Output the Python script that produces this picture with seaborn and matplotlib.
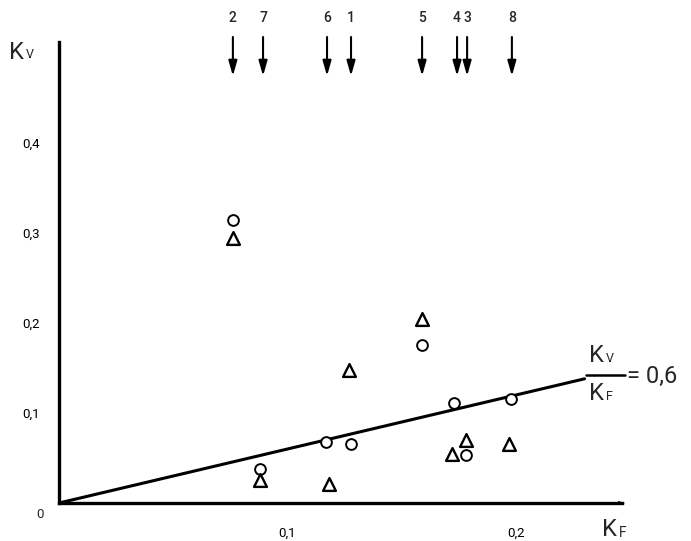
import matplotlib
matplotlib.use("Agg")
import matplotlib.pyplot as plt
import seaborn as sns
import numpy as np
import pandas as pd

# ---- data ----
sample_ids = ["2", "7", "6", "1", "5", "4", "3", "8"]
sample_kf = [0.0761, 0.0893, 0.1173, 0.1278, 0.1589, 0.1742, 0.1786, 0.1982]

circle_kf = [0.076, 0.088, 0.117, 0.128, 0.159, 0.173, 0.178, 0.198]
circle_kv = [0.315, 0.038, 0.068, 0.066, 0.176, 0.111, 0.053, 0.116]

triangle_kf = [0.076, 0.088, 0.118, 0.127, 0.159, 0.172, 0.178, 0.197]
triangle_kv = [0.295, 0.026, 0.021, 0.148, 0.204, 0.054, 0.070, 0.066]

ratio = 0.6
line_kf = [0.0, 0.230]

x_ticks = [0.1, 0.2]
x_ticklabels = ["0,1", "0,2"]
y_ticks = [0.1, 0.2, 0.3, 0.4]
y_ticklabels = ["0,1", "0,2", "0,3", "0,4"]

# ---- style ----
sns.set_theme(style="white")
plt.rcParams["font.family"] = ["Roboto", "DejaVu Sans"]
FW = "medium"     # sample numbers at top
FN = "normal"     # tick labels and large letters

W, H = 691, 541
fig = plt.figure(figsize=(W / 100, H / 100), dpi=100)
X0, Y0 = 59, 503          # origin in pixels
SX, SY = 2285.0, 900.0    # pixels per data unit
ax = fig.add_axes([X0 / W, (H - Y0) / H, (689 - X0) / W, (Y0 - 3) / H])
ax.set_xlim(0, (689 - X0) / SX)
ax.set_ylim(0, (Y0 - 3) / SY)


def dx(px):
    return (px - X0) / SX


def dy(py):
    return (Y0 - py) / SY


line_df = pd.DataFrame({"KF": line_kf})
line_df["KV"] = ratio * line_df["KF"]
sns.lineplot(data=line_df, x="KF", y="KV", ax=ax, color="black", linewidth=2.2)

circ_df = pd.DataFrame({"KF": circle_kf, "KV": circle_kv})
tri_df = pd.DataFrame({"KF": triangle_kf, "KV": triangle_kv})
sns.scatterplot(data=circ_df, x="KF", y="KV", ax=ax, marker="o", s=60,
                facecolor="white", edgecolor="black", linewidth=1.4, zorder=3)
sns.scatterplot(data=tri_df, x="KF", y="KV", ax=ax, marker="^", s=85,
                facecolor="white", edgecolor="black", linewidth=1.7, zorder=3)

# axes appearance
for s in ["top", "right"]:
    ax.spines[s].set_visible(False)
ax.spines["left"].set_bounds(0, dy(42))
ax.spines["bottom"].set_bounds(0, dx(622))
for s in ["left", "bottom"]:
    ax.spines[s].set_linewidth(2.4)
    ax.spines[s].set_color("black")

ax.set_xticks(x_ticks)
ax.set_xticklabels(x_ticklabels, fontweight=FN)
ax.set_yticks(y_ticks)
ax.set_yticklabels(y_ticklabels, fontweight=FN)
ax.tick_params(axis="both", direction="in", length=3, width=1.3, colors="black",
               labelsize=9.5, labelcolor="black")
ax.tick_params(axis="y", pad=14)
ax.tick_params(axis="x", pad=17)
ax.set_xlabel("")
ax.set_ylabel("")
ax.grid(False)

# origin label
ax.text(dx(40), dy(515), "0", fontsize=9.5, fontweight=FN, ha="center", va="center", clip_on=False)

# axis names
ax.text(dx(9), dy(52), "K", fontsize=17, fontweight=FN, ha="left", va="center", clip_on=False)
ax.text(dx(25.5), dy(54), "V", fontsize=9, fontweight=FN, ha="left", va="center", clip_on=False)
ax.text(dx(602), dy(530), "K", fontsize=17, fontweight=FN, ha="left", va="center", clip_on=False)
ax.text(dx(619), dy(533), "F", fontsize=10, fontweight=FN, ha="left", va="center", clip_on=False)

# ratio label
ax.text(dx(589), dy(355), "K", fontsize=17, fontweight=FN, ha="left", va="center", clip_on=False)
ax.text(dx(606), dy(358), "V", fontsize=9, fontweight=FN, ha="left", va="center", clip_on=False)
ax.plot([dx(586), dx(625)], [dy(375), dy(375)], color="black", lw=1.8, clip_on=False)
ax.text(dx(589), dy(394), "K", fontsize=17, fontweight=FN, ha="left", va="center", clip_on=False)
ax.text(dx(606), dy(397), "F", fontsize=9, fontweight=FN, ha="left", va="center", clip_on=False)
ax.text(dx(627), dy(376), "= 0,6", fontsize=17, fontweight=FN, ha="left", va="center", clip_on=False)

# arrow at axis end
ax.annotate("", xy=(dx(625), 0), xytext=(dx(600), 0),
            arrowprops=dict(arrowstyle="-|>,head_length=0.5,head_width=0.15",
                            mutation_scale=10, color="black", lw=0,
                            shrinkA=0, shrinkB=0))

# sample markers on top
for lab, xv in zip(sample_ids, sample_kf):
    ax.annotate("", xy=(xv, dy(76)), xytext=(xv, dy(37)),
                arrowprops=dict(arrowstyle="-|>,head_length=0.6,head_width=0.17",
                                mutation_scale=15, color="black", lw=1.5,
                                shrinkA=0, shrinkB=0), annotation_clip=False)
    ax.text(xv, dy(18), lab, fontsize=10, fontweight=FW, ha="center", va="center", clip_on=False)

fig.savefig("out.png", dpi=100, facecolor="white")
